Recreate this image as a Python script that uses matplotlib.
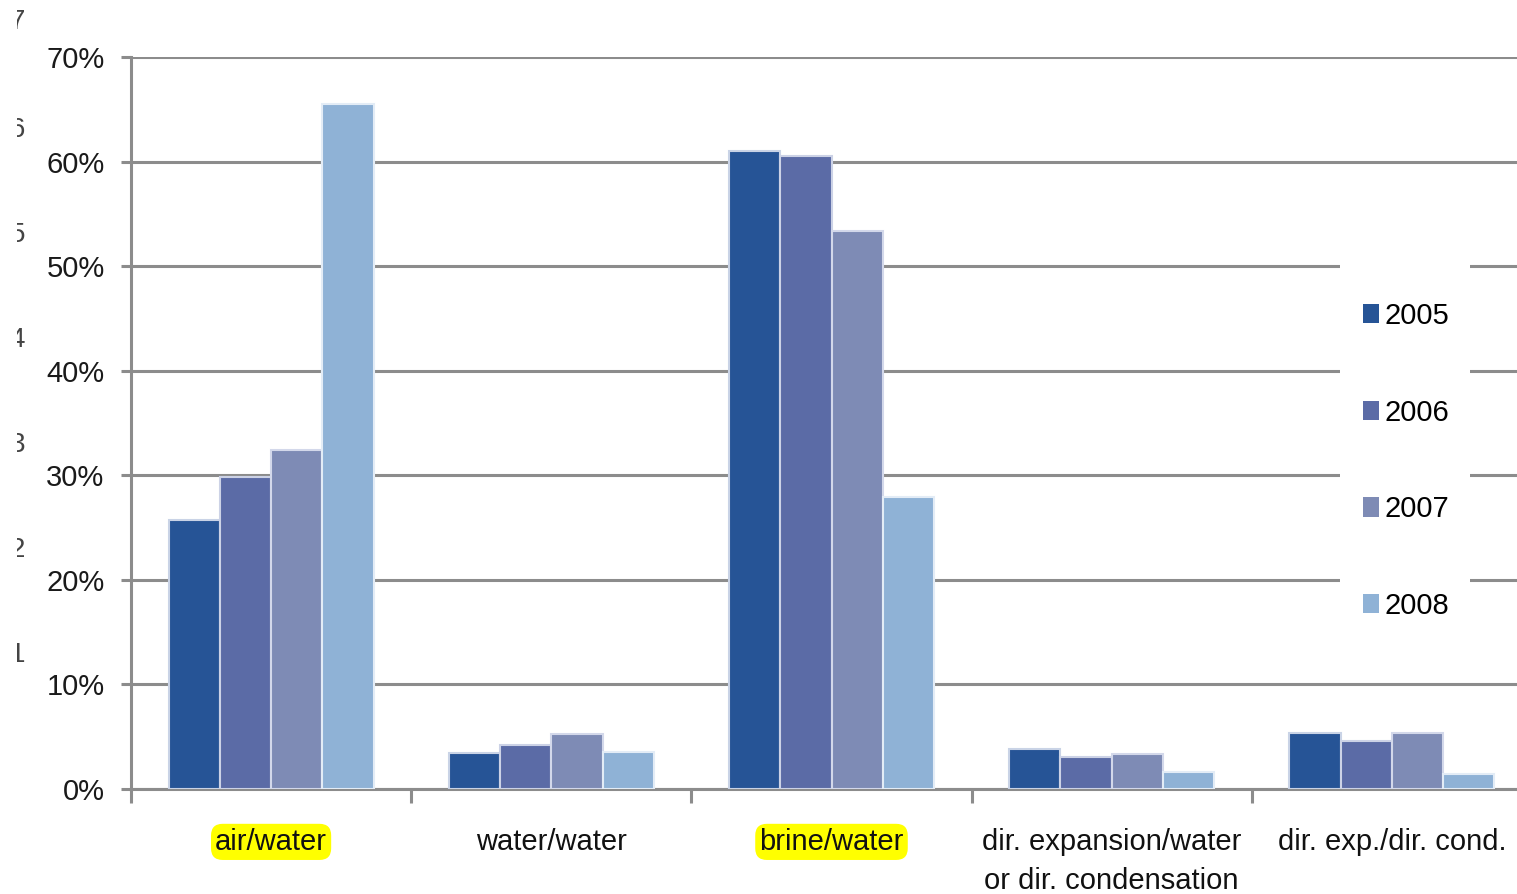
import numpy as np
import matplotlib.pyplot as plt
from matplotlib.patches import Rectangle

plt.rcParams['font.family'] = ['Liberation Sans', 'DejaVu Sans']

categories = ['air/water', 'water/water', 'brine/water',
              'dir. expansion/water\nor dir. condensation', 'dir. exp./dir. cond.']
highlighted = ['air/water', 'brine/water']
years = ['2005', '2006', '2007', '2008']

share_2005 = [25.7, 3.4, 61.0, 3.8, 5.4]
share_2006 = [29.8, 4.2, 60.5, 3.1, 4.6]
share_2007 = [32.4, 5.3, 53.4, 3.3, 5.4]
share_2008 = [65.5, 3.5, 27.9, 1.6, 1.4]

yticks = [0, 10, 20, 30, 40, 50, 60, 70]
side_digits = ['7', '6', '5', '4', '3', '2', '1']

colors = ['#265496', '#5b6ba6', '#7e8bb5', '#8fb2d6']
edges = ['#c9d3e6', '#ccd2e6', '#d3d8ea', '#e3ecf6']
grey = '#8c8c8c'

W, H = 1517, 894
fig = plt.figure(figsize=(W / 100, H / 100), dpi=100)
ax = fig.add_axes([131 / W, (H - 789) / H, (1532 - 131) / W, (789 - 57) / H])

x = np.arange(len(categories))
bw = 0.183
series = [share_2005, share_2006, share_2007, share_2008]
for i, vals in enumerate(series):
    ax.bar(x + (i - 1.5) * bw, vals, width=bw, color=colors[i],
           edgecolor=edges[i], linewidth=1.5, label=years[i], zorder=3)

ax.set_xlim(-0.5, len(categories) - 0.5)
ax.set_ylim(0, 70)
ax.set_yticks(yticks)
ax.set_yticklabels([f'{v}%' for v in yticks])
ax.yaxis.grid(True, color=grey, linewidth=2.2)
ax.set_axisbelow(True)

# boundaries between groups carry the tick marks, centres carry the labels
ax.set_xticks(np.arange(-0.5, len(categories), 1.0))
ax.set_xticklabels([])
ax.set_xticks(x, minor=True)
ax.set_xticklabels(categories, minor=True, fontsize=21, color='#111111',
                   linespacing=1.5)
ax.tick_params(axis='x', which='major', length=10, width=2.2, color=grey)
ax.tick_params(axis='x', which='minor', length=0, pad=28)
ax.tick_params(axis='y', length=7, width=2.2, color=grey, pad=12,
               labelsize=21, labelcolor='#1a1a1a')
for lbl in ax.get_xticklabels(minor=True):
    lbl.set_verticalalignment('top')
    if lbl.get_text() in highlighted:
        lbl.set_bbox(dict(boxstyle='round,pad=0.14,rounding_size=0.4',
                          facecolor='#ffff00', edgecolor='none'))

for s in ['top', 'right']:
    ax.spines[s].set_visible(False)
for s in ['left', 'bottom']:
    ax.spines[s].set_color(grey)
    ax.spines[s].set_linewidth(2.2)

# white panel behind the legend, hiding the grid there
ax.add_patch(Rectangle((1340 / W, 1 - 640 / H), 130 / W, 377 / H,
                       transform=fig.transFigure, facecolor='white',
                       edgecolor='none', zorder=4, clip_on=False))
leg = ax.legend(loc='upper left', bbox_to_anchor=(1363 / W, 1 - 302 / H),
                bbox_transform=fig.transFigure, frameon=False,
                fontsize=21, handlelength=0.55, handleheight=0.65,
                handletextpad=0.2, labelspacing=2.35, borderpad=0,
                borderaxespad=0)
leg.set_zorder(5)
for h in leg.legend_handles:
    h.set_edgecolor('none')

# clipped digits of a neighbouring scale at the far left
for d, yp in zip(side_digits, [22, 130, 235, 340, 445, 550, 655]):
    fig.text(25 / W, 1 - yp / H, d, ha='right', va='center', fontsize=20,
             color='#444444', zorder=2)
fig.add_artist(Rectangle((0, 0), 17 / W, 1, transform=fig.transFigure,
                         facecolor='white', edgecolor='none', zorder=10))

plt.savefig('out.png', dpi=100)
